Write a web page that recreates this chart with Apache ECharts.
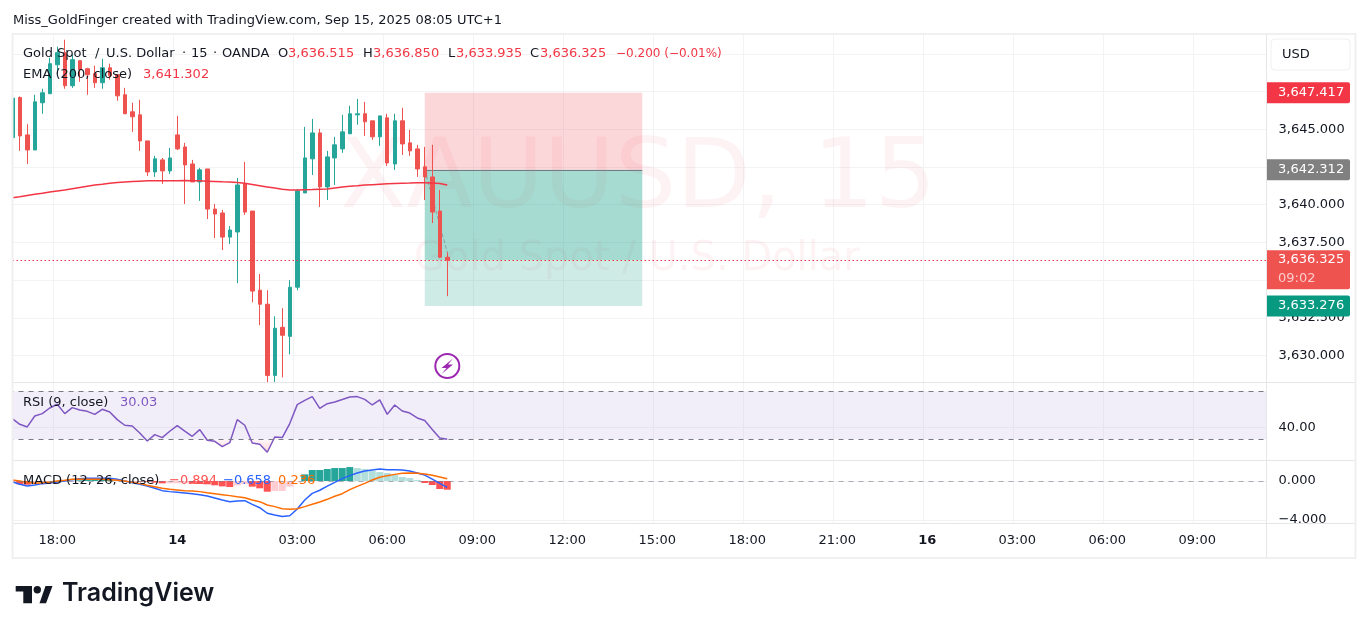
<!DOCTYPE html>
<html>
<head>
<meta charset="utf-8">
<title>XAUUSD 15</title>
<script src="https://cdn.jsdelivr.net/npm/echarts@6/dist/echarts.min.js"></script>
<style>
  html, body { margin: 0; padding: 0; background: #fff; }
  #chart { width: 1369px; height: 633px; }
</style>
</head>
<body>
<div id="chart"></div>
<script>
// 15 minute bars, first bar is partly cut off by the left edge
const opens = [
  3644.45, 3647.11, 3644.63, 3643.63, 3646.76, 3647.36, 3649.28, 3650.08, 3647.89, 3649.55,
  3649.02, 3648.69, 3648.09, 3649.08, 3648.62, 3647.29, 3646.16, 3645.96, 3644.23, 3642.17,
  3642.97, 3642.24, 3644.63, 3643.83, 3642.70, 3641.51, 3642.37, 3639.71, 3639.45, 3637.85,
  3638.19, 3641.38, 3639.58, 3634.33, 3633.40, 3628.68, 3631.87, 3631.27, 3634.53, 3640.78,
  3643.04, 3644.76, 3641.18, 3643.10, 3643.70, 3644.70, 3645.96, 3646.03, 3645.56, 3644.50,
  3645.76, 3642.70, 3645.56, 3644.10, 3643.70, 3642.51, 3641.84, 3639.58, 3636.515
];
const closes = [
  3647.07, 3644.56, 3643.63, 3646.82, 3647.42, 3649.35, 3650.08, 3647.89, 3649.62, 3648.95,
  3648.62, 3648.09, 3649.08, 3648.55, 3647.22, 3646.03, 3645.83, 3644.23, 3642.17, 3643.04,
  3642.24, 3643.10, 3643.70, 3642.64, 3641.51, 3642.31, 3639.71, 3639.38, 3637.85, 3638.32,
  3641.31, 3639.51, 3634.27, 3633.40, 3628.68, 3631.81, 3631.34, 3634.53, 3640.91, 3643.10,
  3644.76, 3641.18, 3643.17, 3643.97, 3644.83, 3646.03, 3646.03, 3645.50, 3644.50, 3645.89,
  3642.77, 3645.56, 3644.03, 3643.57, 3642.37, 3641.84, 3639.51, 3636.52, 3636.325
];
const lows = [
  3644.45, 3643.57, 3642.70, 3643.63, 3646.03, 3647.36, 3648.69, 3647.69, 3647.75, 3648.15,
  3647.29, 3647.75, 3647.69, 3648.29, 3646.89, 3646.03, 3644.83, 3643.57, 3641.91, 3641.84,
  3641.38, 3642.04, 3643.63, 3640.05, 3641.51, 3640.25, 3639.05, 3637.79, 3636.99, 3637.39,
  3634.80, 3639.32, 3633.53, 3632.01, 3628.22, 3628.22, 3628.55, 3630.08, 3634.33, 3640.78,
  3641.97, 3639.85, 3640.31, 3641.31, 3643.44, 3644.70, 3645.30, 3644.56, 3644.30, 3643.90,
  3642.57, 3642.31, 3643.30, 3643.24, 3641.84, 3640.31, 3638.78, 3636.46, 3633.935
];
const highs = [
  3647.07, 3647.18, 3645.34, 3647.29, 3647.69, 3649.75, 3650.48, 3650.94, 3649.95, 3649.55,
  3649.08, 3649.22, 3649.68, 3649.35, 3648.62, 3647.75, 3646.76, 3646.96, 3644.23, 3643.24,
  3643.10, 3643.77, 3645.89, 3644.10, 3642.97, 3642.44, 3642.37, 3640.05, 3639.65, 3638.58,
  3641.77, 3642.84, 3639.58, 3635.40, 3634.33, 3632.60, 3633.14, 3635.00, 3641.04, 3645.16,
  3645.69, 3645.03, 3643.57, 3644.50, 3645.96, 3646.56, 3647.02, 3646.82, 3645.56, 3645.89,
  3646.03, 3646.03, 3646.43, 3644.96, 3643.97, 3643.83, 3643.97, 3640.98, 3636.85
];
const ema200 = [
  3640.46, 3640.53, 3640.61, 3640.69, 3640.76, 3640.84, 3640.91, 3640.98, 3641.06, 3641.14,
  3641.22, 3641.30, 3641.36, 3641.43, 3641.48, 3641.51, 3641.54, 3641.56, 3641.58, 3641.58,
  3641.59, 3641.59, 3641.59, 3641.61, 3641.59, 3641.58, 3641.56, 3641.54, 3641.52, 3641.51,
  3641.48, 3641.42, 3641.34, 3641.26, 3641.18, 3641.10, 3641.02, 3640.98, 3640.98, 3640.99,
  3641.00, 3641.02, 3641.04, 3641.11, 3641.18, 3641.23, 3641.26, 3641.30, 3641.33, 3641.36,
  3641.39, 3641.41, 3641.43, 3641.44, 3641.46, 3641.46, 3641.44, 3641.40, 3641.302
];
const rsi9 = [
  47.2, 42.5, 40.3, 49.4, 51.4, 56.1, 59.2, 51.4, 56.4, 54.4,
  53.3, 50.8, 55.0, 52.8, 46.4, 41.7, 41.1, 35.3, 28.6, 33.9,
  31.4, 36.7, 41.4, 36.9, 32.5, 38.1, 29.2, 28.3, 23.9, 27.2,
  46.4, 41.7, 26.9, 25.8, 19.2, 31.9, 31.4, 43.1, 58.9, 62.5,
  65.6, 55.8, 59.7, 61.1, 63.1, 65.3, 65.6, 63.3, 58.6, 62.8,
  50.8, 58.6, 53.6, 51.9, 47.8, 45.6, 38.1, 31.1, 30.03
];
const macdLine = [
  -0.07, -0.34, -0.52, -0.41, -0.27, -0.20, -0.11, 0, 0.14, 0.24,
  0.27, 0.27, 0.27, 0.27, 0.18, 0, -0.18, -0.34, -0.52, -0.75,
  -0.99, -1.09, -1.16, -1.23, -1.30, -1.40, -1.54, -1.74, -1.95, -2.12,
  -2.06, -2.02, -2.40, -2.74, -3.31, -3.49, -3.65, -3.56, -2.87, -1.95,
  -1.27, -0.95, -0.52, -0.14, 0.24, 0.55, 0.82, 1.02, 1.13, 1.23,
  1.16, 1.16, 1.13, 1.02, 0.82, 0.61, 0.20, -0.24, -0.658
];
const signalLine = [
  0.10, 0, -0.14, -0.24, -0.17, -0.10, 0, 0.07, 0.17, 0.17,
  0.17, 0.17, 0.17, 0.14, 0.07, 0, -0.14, -0.27, -0.44, -0.58,
  -0.75, -0.85, -0.92, -0.99, -1.02, -1.09, -1.20, -1.30, -1.40, -1.50,
  -1.61, -1.71, -1.95, -2.12, -2.46, -2.63, -2.84, -2.91, -2.84, -2.63,
  -2.39, -2.15, -1.88, -1.57, -1.30, -0.89, -0.55, -0.24, 0.10, 0.38,
  0.55, 0.68, 0.79, 0.82, 0.79, 0.72, 0.58, 0.41, 0.236
];
const macdHist = [
  -0.17, -0.34, -0.38, -0.17, -0.10, -0.10, -0.11, -0.07, -0.03, 0.07,
  0.10, 0.10, 0.10, 0.13, 0.11, 0, -0.04, -0.07, -0.08, -0.17,
  -0.24, -0.24, -0.24, -0.24, -0.28, -0.31, -0.34, -0.44, -0.55, -0.62,
  -0.45, -0.31, -0.58, -0.75, -1.10, -1.02, -1.02, -0.58, -0.03, 0.68,
  1.13, 1.13, 1.23, 1.33, 1.33, 1.43, 1.33, 1.23, 1.02, 0.92,
  0.82, 0.61, 0.41, 0.31, 0.11, -0.20, -0.41, -0.82, -0.894
];

const BAR_COUNT = 168;
const timeLabels = {
  6: '18:00', 22: '14', 38: '03:00', 50: '06:00', 62: '09:00', 74: '12:00', 86: '15:00',
  98: '18:00', 110: '21:00', 122: '16', 134: '03:00', 146: '06:00', 158: '09:00'
};
const categories = Array.from({ length: BAR_COUNT }, (_, i) => timeLabels[i] || '');

// short position drawing
const posStart = 55;
const posEnd = 84;
const stopPrice = 3647.417;
const entryPrice = 3642.312;
const lastPrice = 3636.325;
const targetPrice = 3633.276;

const COLORS = {
  up: '#26a69a',
  down: '#ef5350',
  text: '#131722',
  grid: '#f3f3f5',
  frame: '#f0f0f2',
  sep: '#e6e6e8',
  ema: '#f23645',
  rsi: '#7e57c2',
  macd: '#2962ff',
  signal: '#ff6d00',
  histUp: '#26a69a',
  histUpFade: '#b2dfdb',
  histDown: '#ff5252',
  histDownFade: '#ffcdd2',
};
const FONT = '"DejaVu Sans", sans-serif';
const FS = 13;

function fmtPrice(v) {
  return v.toLocaleString('en-US', { minimumFractionDigits: 3, maximumFractionDigits: 3 });
}

function histColor(v, i) {
  const prev = i > 0 ? macdHist[i - 1] : v;
  if (v >= 0) return v >= prev ? COLORS.histUp : COLORS.histUpFade;
  return v < prev ? COLORS.histDown : COLORS.histDownFade;
}

function priceBadge(price, color) {
  return {
    yAxis: price,
    lineStyle: { color: 'rgba(0,0,0,0)', width: 0 },
    label: {
      show: true, position: 'end', distance: 0, offset: [-1.5, 0],
      formatter: fmtPrice(price),
      color: '#fff', fontSize: FS, fontFamily: FONT,
      backgroundColor: color, borderRadius: [0, 2, 2, 0],
      width: 72, height: 21, lineHeight: 21, padding: [0, 0, 0, 11],
    },
  };
}

function xAxisFor(gridIndex, showLabels) {
  return {
    type: 'category', gridIndex, data: categories, boundaryGap: true,
    axisLine: { show: false },
    axisTick: { show: false, alignWithLabel: true },
    splitLine: { show: true, interval: i => categories[i] !== '', lineStyle: { color: COLORS.grid, width: 1 } },
    axisLabel: {
      show: showLabels, interval: i => categories[i] !== '', margin: 11,
      color: COLORS.text, fontSize: FS, fontFamily: FONT,
      formatter: v => (v === '14' || v === '16') ? '{b|' + v + '}' : v,
      rich: { b: { fontWeight: 'bold', fontSize: FS, fontFamily: FONT, color: COLORS.text } },
    },
  };
}

// one legend word, absolutely placed
function legendText(text, left, top, fill, size) {
  return { type: 'text', silent: true, z: 20, left, top, style: { text, fontSize: size || FS, fontFamily: FONT, fill: fill || COLORS.text } };
}

const chart = echarts.init(document.getElementById('chart'), null, { renderer: 'canvas' });

chart.setOption({
  animation: false,
  backgroundColor: '#fff',
  textStyle: { fontFamily: FONT },
  grid: [
    { left: 8.5, width: 1260, top: 16.2, height: 377 },
    { left: 8.5, width: 1260, top: 382, height: 78 },
    { left: 8.5, width: 1260, top: 460, height: 63 },
  ],
  xAxis: [xAxisFor(0, false), xAxisFor(1, false), xAxisFor(2, true)],
  yAxis: [
    {
      type: 'value', gridIndex: 0, position: 'right', min: 3627.5, max: 3652.5, interval: 2.5,
      axisLine: { show: false }, axisTick: { show: false },
      splitLine: { lineStyle: { color: COLORS.grid }, showMinLine: false, showMaxLine: false },
      axisLabel: {
        margin: 10, color: COLORS.text, fontSize: FS, fontFamily: FONT, padding: [0, 0, 3, 0],
        showMinLabel: false, showMaxLabel: false, formatter: fmtPrice,
      },
    },
    {
      type: 'value', gridIndex: 1, position: 'right', min: 12.75, max: 77.75,
      axisLine: { show: false },
      axisTick: { show: false, customValues: [40] },
      splitLine: { lineStyle: { color: COLORS.grid } },
      axisLabel: { customValues: [40], margin: 10, color: COLORS.text, fontSize: FS, fontFamily: FONT, formatter: v => v.toFixed(2) },
    },
    {
      type: 'value', gridIndex: 2, position: 'right', min: -4.308, max: 2.154,
      axisLine: { show: false },
      axisTick: { show: false, customValues: [-4, 0] },
      splitLine: { lineStyle: { color: COLORS.grid } },
      axisLabel: {
        customValues: [-4, 0], margin: 10, color: COLORS.text, fontSize: FS, fontFamily: FONT, padding: [0, 0, 3, 0],
        formatter: v => (v < 0 ? '\u2212' : '') + Math.abs(v).toFixed(3),
      },
    },
  ],
  series: [
    {
      // position zones sit under the candles
      name: 'Position', type: 'line', xAxisIndex: 0, yAxisIndex: 0, z: 1, data: [], silent: true,
      markArea: {
        silent: true,
        data: [
          [{ coord: [posStart, stopPrice], itemStyle: { color: 'rgba(242,54,69,0.2)' } }, { coord: [posEnd, entryPrice] }],
          [{ coord: [posStart, entryPrice], itemStyle: { color: 'rgba(8,153,129,0.2)' } }, { coord: [posEnd, targetPrice] }],
          [{ coord: [posStart, entryPrice], itemStyle: { color: 'rgba(8,153,129,0.2)' } }, { coord: [posEnd, lastPrice] }],
        ],
      },
      markLine: {
        silent: true, symbol: 'none', label: { show: false }, z: 1,
        lineStyle: { color: '#787b86', type: 'solid', width: 1 },
        data: [[{ coord: [posStart, entryPrice] }, { coord: [posEnd, entryPrice] }]],
      },
    },
    {
      name: 'Trade path', type: 'line', xAxisIndex: 0, yAxisIndex: 0, z: 1, silent: true,
      data: categories.map((_, i) => i === posStart ? entryPrice : i === 58 ? highs[58] : null),
      connectNulls: true, showSymbol: false,
      lineStyle: { color: 'rgba(120,123,134,0.6)', width: 1, type: 'dashed' },
    },
    {
      name: 'XAUUSD', type: 'candlestick', xAxisIndex: 0, yAxisIndex: 0, z: 2, barWidth: 4,
      data: opens.map((o, i) => [o, closes[i], lows[i], highs[i]]),
      itemStyle: { color: COLORS.up, color0: COLORS.down, borderColor: COLORS.up, borderColor0: COLORS.down, borderWidth: 1 },
    },
    {
      name: 'EMA', type: 'line', xAxisIndex: 0, yAxisIndex: 0, z: 3, data: ema200, showSymbol: false,
      lineStyle: { color: COLORS.ema, width: 1.5 },
    },
    {
      // price scale badges and the dotted last price line
      name: 'Badges', type: 'line', xAxisIndex: 0, yAxisIndex: 0, z: 12, data: [], silent: true,
      markLine: {
        silent: true, symbol: 'none', z: 12,
        lineStyle: { color: COLORS.ema, type: [1.5, 2.5], width: 1 },
        data: [
          priceBadge(stopPrice, '#f23645'),
          priceBadge(entryPrice, '#808080'),
          priceBadge(targetPrice, '#089981'),
          {
            yAxis: lastPrice,
            label: {
              show: true, position: 'end', distance: 0, offset: [-1.5, 9.5],
              formatter: '{p|' + fmtPrice(lastPrice) + '}\n{t|09:02}',
              backgroundColor: COLORS.down, borderRadius: [0, 2, 2, 0],
              width: 72, height: 39, padding: [0, 0, 0, 11], color: '#fff',
              rich: {
                p: { color: '#fff', fontSize: FS, fontFamily: FONT, lineHeight: 19 },
                t: { color: 'rgba(255,255,255,0.7)', fontSize: FS, fontFamily: FONT, lineHeight: 19 },
              },
            },
          },
        ],
      },
    },
    {
      name: 'RSI', type: 'line', xAxisIndex: 1, yAxisIndex: 1, z: 3, data: rsi9, showSymbol: false,
      lineStyle: { color: COLORS.rsi, width: 1.5 },
      markArea: {
        silent: true, itemStyle: { color: 'rgba(126,87,194,0.1)' },
        data: [[{ yAxis: 70 }, { yAxis: 30 }]],
      },
      markLine: {
        silent: true, symbol: 'none', label: { show: false },
        lineStyle: { color: '#787b86', type: [5, 5], width: 1 },
        data: [{ yAxis: 70 }, { yAxis: 30 }],
      },
    },
    {
      name: 'RSI oversold', type: 'line', xAxisIndex: 1, yAxisIndex: 1, z: 2, silent: true,
      data: rsi9.map(v => Math.min(v, 30)), showSymbol: false,
      lineStyle: { width: 0 },
      areaStyle: {
        origin: 30,
        color: new echarts.graphic.LinearGradient(0, 0, 0, 1, [
          { offset: 0, color: 'rgba(242,54,69,0.05)' },
          { offset: 1, color: 'rgba(242,54,69,0.3)' },
        ]),
      },
    },
    {
      name: 'Histogram', type: 'bar', xAxisIndex: 2, yAxisIndex: 2, z: 2, barWidth: 7,
      data: macdHist.map((v, i) => ({ value: v, itemStyle: { color: histColor(v, i) } })),
      markLine: {
        silent: true, symbol: 'none', label: { show: false },
        lineStyle: { color: 'rgba(120,123,134,0.6)', type: [5, 5], width: 1 },
        data: [{ yAxis: 0 }],
      },
    },
    {
      name: 'MACD', type: 'line', xAxisIndex: 2, yAxisIndex: 2, z: 3, data: macdLine, showSymbol: false,
      lineStyle: { color: COLORS.macd, width: 1.5 },
    },
    {
      name: 'Signal', type: 'line', xAxisIndex: 2, yAxisIndex: 2, z: 3, data: signalLine, showSymbol: false,
      lineStyle: { color: COLORS.signal, width: 1.5 },
    },
  ],
  graphic: [
    // watermark
    { type: 'text', silent: true, z: 0.5, left: 340, top: 133, style: { text: 'XAUUSD, 15', fontSize: 97, fontFamily: FONT, fill: 'rgba(242,54,69,0.06)' } },
    { type: 'text', silent: true, z: 0.5, left: 414, top: 240, style: { text: 'Gold Spot / U.S. Dollar', fontSize: 40, fontFamily: FONT, fill: 'rgba(242,54,69,0.06)' } },

    // masks for what the axes draw outside the panes
    { type: 'rect', silent: true, z: 1, shape: { x: 0, y: 0, width: 1369, height: 34 }, style: { fill: '#fff' } },
    { type: 'rect', silent: true, z: 10, shape: { x: 1267, y: 34, width: 2, height: 524 }, style: { fill: '#fff' } },
    { type: 'rect', silent: true, z: 1, shape: { x: 1267, y: 523.5, width: 88, height: 34 }, style: { fill: '#fff' } },
    { type: 'rect', silent: true, z: 13, shape: { x: 0, y: 34, width: 13, height: 490 }, style: { fill: '#fff' } },

    // frame and pane separators
    { type: 'rect', silent: true, z: 14, shape: { x: 12.5, y: 34, width: 1343, height: 524 }, style: { fill: 'none', stroke: COLORS.frame, lineWidth: 2 } },
    { type: 'line', silent: true, z: 11, shape: { x1: 13, y1: 382.5, x2: 1355, y2: 382.5 }, style: { stroke: COLORS.sep, lineWidth: 1 } },
    { type: 'line', silent: true, z: 11, shape: { x1: 13, y1: 460.5, x2: 1355, y2: 460.5 }, style: { stroke: COLORS.sep, lineWidth: 1 } },
    { type: 'line', silent: true, z: 11, shape: { x1: 13, y1: 523.5, x2: 1355, y2: 523.5 }, style: { stroke: COLORS.sep, lineWidth: 1 } },
    { type: 'line', silent: true, z: 11, shape: { x1: 1266.5, y1: 35, x2: 1266.5, y2: 557 }, style: { stroke: COLORS.sep, lineWidth: 1 } },

    // USD button
    { type: 'rect', silent: true, z: 6, shape: { x: 1271, y: 39, width: 79, height: 31, r: 4 }, style: { fill: '#fff', stroke: COLORS.frame, lineWidth: 1 } },
    legendText('USD', 1282, 48),

    // top caption
    legendText('Miss_GoldFinger created with TradingView.com, Sep 15, 2025 08:05 UTC+1', 13, 14),

    // pane legends
    legendText('Gold Spot', 23, 47),
    legendText('/', 95, 47),
    legendText('U.S. Dollar', 106, 47),
    legendText('\u00b7', 182, 47),
    legendText('15', 191, 47),
    legendText('\u00b7', 213, 47),
    legendText('OANDA', 222, 47),
    legendText('O', 278, 47),
    legendText('3,636.515', 288, 47, '#f23645'),
    legendText('H', 363, 47),
    legendText('3,636.850', 373, 47, '#f23645'),
    legendText('L', 448, 47),
    legendText('3,633.935', 456, 47, '#f23645'),
    legendText('C', 530, 47),
    legendText('3,636.325', 540, 47, '#f23645'),
    legendText('\u22120.200 (\u22120.01%)', 616, 47.5, '#f23645', 12),
    legendText('EMA (200, close)', 23, 68),
    legendText('3,641.302', 143, 68, '#f23645'),
    legendText('RSI (9, close)', 23, 396),
    legendText('30.03', 120, 396, COLORS.rsi),
    legendText('MACD (12, 26, close)', 23, 474),
    legendText('\u22120.894', 169, 474, COLORS.histDown),
    legendText('\u22120.658', 223, 474, COLORS.macd),
    legendText('0.236', 278, 474, COLORS.signal),

    // session break marker
    { type: 'circle', silent: true, z: 8, shape: { cx: 447.3, cy: 366, r: 12 }, style: { fill: '#fff', stroke: '#9c27b0', lineWidth: 2 } },
    { type: 'polygon', silent: true, z: 9, shape: { points: [[453, 358.5], [441.5, 368], [446.5, 368], [441.5, 374], [453, 364.5], [448, 364.5]] }, style: { fill: '#9c27b0' } },

    // TradingView logo
    { type: 'polygon', silent: true, z: 20, shape: { points: [[15.7, 586], [32, 586], [32, 603.3], [23.3, 603.3], [23.3, 591.6], [15.7, 591.6]] }, style: { fill: '#131722' } },
    { type: 'circle', silent: true, z: 20, shape: { cx: 37.3, cy: 589.7, r: 3.7 }, style: { fill: '#131722' } },
    { type: 'polygon', silent: true, z: 20, shape: { points: [[45.5, 586], [52.5, 586], [46, 603.3], [39.5, 603.3]] }, style: { fill: '#131722' } },
    { type: 'text', silent: true, z: 20, left: 62, top: 581, style: { text: 'TradingView', fontSize: 25, fontWeight: 600, fontFamily: 'Inter, sans-serif', fill: '#131722' } },
  ],
});
</script>
</body>
</html>
